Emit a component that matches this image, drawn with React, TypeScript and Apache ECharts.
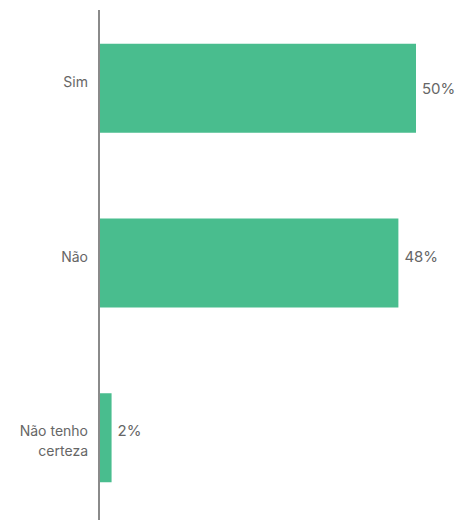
import React, { useEffect, useRef } from "react";
import * as echarts from "echarts";

const categories = ["Sim", "Não", "Não tenho\ncerteza"];
const values = [50.4, 47.6, 2.0];

// layout-only tweaks (vertical nudges of the value labels, px)
const valueLabelDy = [0, -7, -7];

export default function App() {
  const ref = useRef<HTMLDivElement>(null);
  useEffect(() => {
    if (!ref.current) return;
    const chart = echarts.init(ref.current, null, { renderer: "svg" });
    const font = "Inter, Roboto, sans-serif";
    chart.setOption({
      animation: false,
      textStyle: { fontFamily: font },
      grid: { left: 99, right: 47, top: 1, bottom: 0 },
      xAxis: { type: "value", min: 0, max: 50.4, show: false },
      yAxis: {
        type: "category",
        data: categories,
        inverse: true,
        axisLine: { show: false },
        axisTick: { show: false },
        axisLabel: { show: false },
      },
      graphic: [
        {
          type: "line",
          shape: { x1: 99, y1: 10, x2: 99, y2: 520 },
          style: { stroke: "#8a8a8a", lineWidth: 2 },
          z: 10,
        },
      ],
      series: [
        {
          type: "bar",
          data: values.map((v, i) => ({
            value: v,
            label: { offset: [0, valueLabelDy[i]] },
          })),
          barWidth: 89,
          itemStyle: { color: "#49bd8e" },
          label: {
            show: true,
            position: "right",
            distance: 6,
            color: "#666",
            fontSize: 15,
            fontFamily: font,
            formatter: (p: any) => Math.round(p.value) + "%",
          },
        },
        {
          type: "bar",
          data: categories.map(() => 0),
          barWidth: 89,
          barGap: "-100%",
          itemStyle: { color: "transparent" },
          silent: true,
          label: {
            show: true,
            position: "left",
            distance: 11,
            align: "right",
            verticalAlign: "top",
            offset: [0, -17],
            color: "#666",
            fontSize: 14,
            lineHeight: 20,
            fontFamily: font,
            formatter: (p: any) => categories[p.dataIndex],
          },
        },
      ],
    });
    return () => chart.dispose();
  }, []);
  return (
    <div
      ref={ref}
      style={{ position: "absolute", left: 0, top: 0, width: 463, height: 525, background: "#fff" }}
    />
  );
}
